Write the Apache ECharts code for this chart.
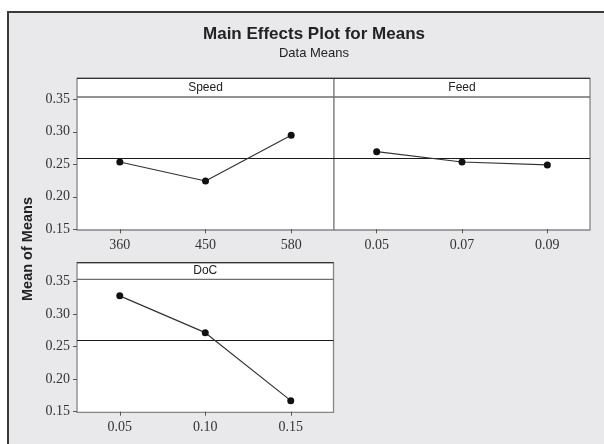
<!DOCTYPE html>
<html>
<head>
<meta charset="utf-8">
<script src="https://cdn.jsdelivr.net/npm/echarts@6/dist/echarts.min.js"></script>
<style>
html,body{margin:0;padding:0;background:#fff;}
#chart{width:604px;height:444px;}
</style>
</head>
<body>
<div id="chart"></div>
<script>
// ---- data ----
const speedLevels = ['360', '450', '580'];
const speedMeans = [0.2535, 0.2243, 0.2946];
const feedLevels = ['0.05', '0.07', '0.09'];
const feedMeans = [0.2695, 0.2535, 0.2490];
const docLevels = ['0.05', '0.10', '0.15'];
const docMeans = [0.3282, 0.2716, 0.1670];
const grandMean = 0.2556;
const factorNames = ['Speed', 'Feed', 'DoC'];
const yTicks = [0.15, 0.20, 0.25, 0.30, 0.35];

// ---- layout ----
const panels = [
  { left: 77, top: 99.3, width: 257, height: 130, stripTop: 78.3, stripBottom: 97, showY: true },
  { left: 334, top: 99.3, width: 256, height: 130, stripTop: 78.3, stripBottom: 97, showY: false },
  { left: 77, top: 281.7, width: 256.5, height: 130, stripTop: 262.7, stripBottom: 279.3, showY: true }
];
const levels = [speedLevels, feedLevels, docLevels];
const means = [speedMeans, feedMeans, docMeans];

const serif = "'Liberation Serif', 'DejaVu Serif', serif";
const sans = "'Liberation Sans', Arial, sans-serif";

const chart = echarts.init(document.getElementById('chart'), null, { renderer: 'canvas' });

const grids = panels.map(p => ({ left: p.left, top: p.top, width: p.width, height: p.height, containLabel: false }));

const xAxes = panels.map((p, i) => ({
  type: 'category',
  gridIndex: i,
  data: levels[i],
  boundaryGap: true,
  axisLine: { show: false },
  axisTick: { show: true, alignWithLabel: true, length: 4, lineStyle: { color: '#555' } },
  axisLabel: { margin: 9, fontFamily: serif, fontSize: 14, color: '#333' },
  splitLine: { show: false }
}));

const yAxes = panels.map((p, i) => ({
  type: 'value',
  gridIndex: i,
  min: yTicks[0],
  max: yTicks[yTicks.length - 1],
  interval: 0.05,
  axisLine: { show: false },
  axisTick: { show: p.showY, length: 4, lineStyle: { color: '#555' } },
  axisLabel: { show: p.showY, margin: 7, fontFamily: serif, fontSize: 14, color: '#333',
    formatter: v => v.toFixed(2) },
  splitLine: { show: false }
}));

const series = panels.map((p, i) => ({
  type: 'line',
  xAxisIndex: i,
  yAxisIndex: i,
  data: means[i],
  symbol: 'circle',
  symbolSize: 7,
  itemStyle: { color: '#111' },
  lineStyle: { color: '#333', width: 1.2 },
  z: 5,
  markLine: {
    silent: true,
    symbol: 'none',
    label: { show: false },
    lineStyle: { color: '#1a1a1a', width: 1, type: 'solid' },
    data: [{ yAxis: grandMean }]
  }
}));

const graphics = [];
// outer background and frame
graphics.push({ type: 'rect', z: -20, shape: { x: 8, y: 12, width: 620, height: 460 },
  style: { fill: '#e9e9eb', stroke: '#3a3a3a', lineWidth: 2 } });
panels.forEach((p, i) => {
  const bottom = p.top + p.height + 0.7;
  graphics.push({ type: 'rect', z: -10, shape: { x: p.left, y: p.stripTop, width: p.width, height: bottom - p.stripTop },
    style: { fill: '#ffffff', stroke: '#858585', lineWidth: 1.3 } });
  graphics.push({ type: 'line', z: 20, shape: { x1: p.left, y1: p.stripTop, x2: p.left + p.width, y2: p.stripTop },
    style: { stroke: '#333', lineWidth: 1.3 } });
  graphics.push({ type: 'line', z: 20, shape: { x1: p.left, y1: p.stripBottom, x2: p.left + p.width, y2: p.stripBottom },
    style: { stroke: '#6f6f6f', lineWidth: 1.3 } });
  graphics.push({ type: 'text', z: 20, x: p.left + p.width / 2, y: (p.stripTop + p.stripBottom) / 2,
    style: { text: factorNames[i], fill: '#222', font: '12px ' + sans, textAlign: 'center', textVerticalAlign: 'middle' } });
});
graphics.push({ type: 'text', z: 20, x: 28, y: 249, rotation: Math.PI / 2,
  style: { text: 'Mean of Means', fill: '#222', font: 'bold 14.5px ' + sans, textAlign: 'center', textVerticalAlign: 'middle' } });

chart.setOption({
  animation: false,
  backgroundColor: '#ffffff',
  title: {
    text: 'Main Effects Plot for Means',
    subtext: 'Data Means',
    left: 309,
    textAlign: 'center',
    top: 21,
    itemGap: 4,
    textStyle: { fontFamily: sans, fontWeight: 'bold', fontSize: 17, color: '#222' },
    subtextStyle: { fontFamily: sans, fontSize: 13, color: '#222' }
  },
  grid: grids,
  xAxis: xAxes,
  yAxis: yAxes,
  series: series,
  graphic: { elements: graphics }
});
</script>
</body>
</html>
